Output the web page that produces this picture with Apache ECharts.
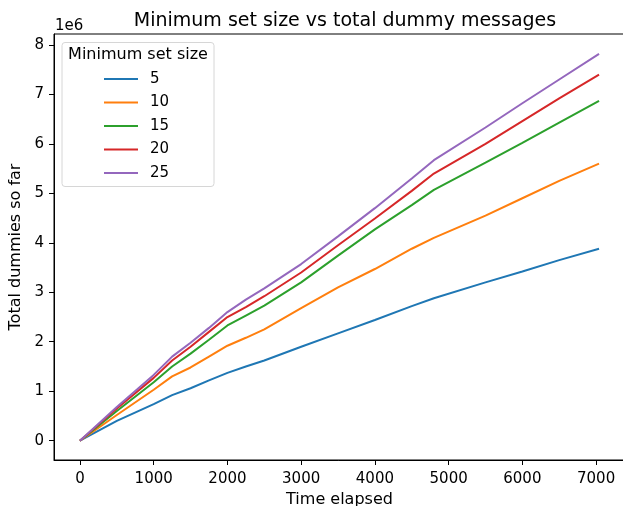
<!DOCTYPE html>
<html>
<head>
<meta charset="utf-8">
<script src="https://cdn.jsdelivr.net/npm/echarts@6/dist/echarts.min.js"></script>
<style>
	html, body { margin: 0; padding: 0; background: #fff; }
	#chart { width: 623px; height: 506px; }
</style>
</head>
<body>
<div id="chart"></div>
<script>
// time elapsed (x) and total dummies in millions (y)
let times = [0, 500, 1000, 1250, 1500, 1750, 2000, 2250, 2500, 3000, 3500, 4000, 4500, 4800, 5500, 6000, 6500, 7040]
let size5 = [0, 0.40, 0.74, 0.92, 1.06, 1.22, 1.37, 1.50, 1.62, 1.90, 2.17, 2.44, 2.72, 2.88, 3.20, 3.42, 3.65, 3.88]
let size10 = [0, 0.52, 1.03, 1.30, 1.48, 1.70, 1.92, 2.08, 2.25, 2.68, 3.10, 3.47, 3.88, 4.10, 4.55, 4.90, 5.25, 5.60]
let size15 = [0, 0.60, 1.18, 1.50, 1.76, 2.04, 2.33, 2.53, 2.73, 3.20, 3.74, 4.27, 4.76, 5.07, 5.62, 6.02, 6.43, 6.87]
let size20 = [0, 0.65, 1.27, 1.62, 1.90, 2.20, 2.50, 2.70, 2.92, 3.40, 3.95, 4.49, 5.05, 5.40, 6.00, 6.46, 6.92, 7.40]
let size25 = [0, 0.68, 1.33, 1.70, 1.98, 2.28, 2.60, 2.85, 3.08, 3.57, 4.13, 4.70, 5.30, 5.67, 6.33, 6.82, 7.30, 7.82]
let names = ['5', '10', '15', '20', '25']
let colors = ['#1f77b4', '#ff7f0e', '#2ca02c', '#d62728', '#9467bd']
let xTicks = [0, 1000, 2000, 3000, 4000, 5000, 6000, 7000]
let yTicks = [0, 1, 2, 3, 4, 5, 6, 7, 8]

let chart = echarts.init(document.getElementById('chart'))
let font = 'DejaVu Sans'

let allY = [size5, size10, size15, size20, size25]
let series = []
for (let i = 0; i < allY.length; i++) {
	series.push({
		name: names[i],
		type: 'line',
		showSymbol: false,
		symbol: 'none',
		data: times.map((t, j) => [t, allY[i][j]]),
		lineStyle: { color: colors[i], width: 2 },
		itemStyle: { color: colors[i] }
	})
}

let option = {
	animation: false,
	color: colors,
	title: {
		text: 'Minimum set size vs total dummy messages',
		left: 340, top: 7, textAlign: 'center',
		textStyle: { fontFamily: font, fontSize: 19, fontWeight: 'normal', color: '#000' }
	},
	grid: {
		left: 54, top: 34, width: 571, bottom: 46,
		outerBoundsMode: 'none',
		show: true, borderColor: '#000', borderWidth: 1, backgroundColor: 'transparent'
	},
	legend: {
		orient: 'vertical',
		left: 99, top: 66, z: 200,
		itemWidth: 34, itemHeight: 2, itemGap: 7.5,
		icon: 'rect',
		data: names,
		inactiveColor: '#ccc',
		textStyle: { fontFamily: font, fontSize: 15, color: '#000', lineHeight: 16, padding: [0, 0, 0, 7] }
	},
	xAxis: {
		type: 'value',
		min: -352, max: 7392,
		name: 'Time elapsed', nameLocation: 'middle', nameGap: 30,
		nameTextStyle: { fontFamily: font, fontSize: 16, color: '#000' },
		splitLine: { show: false },
		axisLine: { show: true, onZero: false, lineStyle: { color: '#000', width: 1 } },
		axisTick: { show: true, length: 5, lineStyle: { color: '#000' }, customValues: xTicks },
		axisLabel: {
			fontFamily: font, fontSize: 15, color: '#000', margin: 12, customValues: xTicks,
			formatter: v => String(v)
		}
	},
	yAxis: {
		type: 'value',
		min: -0.39, max: 8.22,
		name: 'Total dummies so far', nameLocation: 'middle', nameGap: 21,
		nameTextStyle: { fontFamily: font, fontSize: 16, color: '#000' },
		splitLine: { show: false },
		axisLine: { show: true, onZero: false, lineStyle: { color: '#000', width: 1 } },
		axisTick: { show: true, length: 5, lineStyle: { color: '#000' }, customValues: yTicks },
		axisLabel: {
			fontFamily: font, fontSize: 15, color: '#000', margin: 10, customValues: yTicks,
			formatter: v => String(v)
		}
	},
	graphic: [
		{
			type: 'rect', z: 90,
			shape: { x: 62, y: 42.5, width: 152, height: 144, r: 3 },
			style: { fill: 'rgba(255,255,255,0.8)', stroke: '#d6d6d6', lineWidth: 1 }
		},
		{
			type: 'text', z: 91,
			x: 138, y: 47,
			style: { text: 'Minimum set size', font: '16px "DejaVu Sans"', fill: '#000', align: 'center' }
		},
		{
			type: 'text',
			left: 55, top: 19,
			style: { text: '1e6', font: '15px "DejaVu Sans"', fill: '#000' }
		}
	],
	series: series
}

chart.setOption(option)
</script>
</body>
</html>
